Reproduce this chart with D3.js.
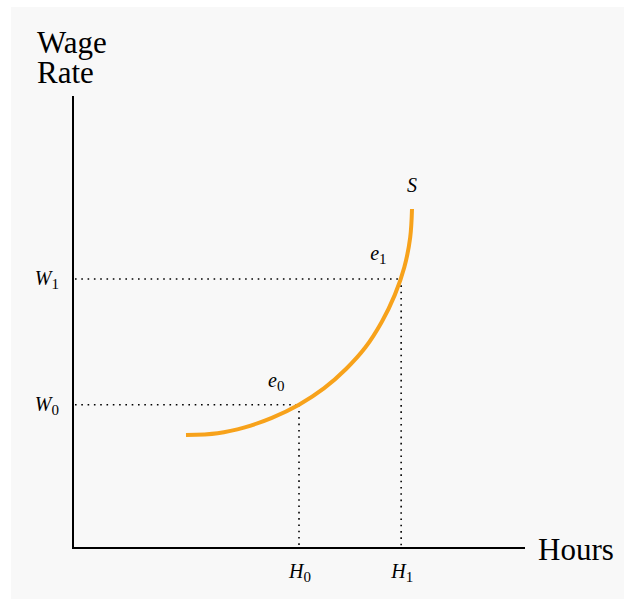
<!DOCTYPE html>
<html>
<head>
<meta charset="utf-8">
<script src="https://cdn.jsdelivr.net/npm/d3@7"></script>
<style>
  html, body { margin: 0; padding: 0; background: #ffffff; }
  svg { display: block; }
</style>
</head>
<body>
<svg id="chart" width="626" height="599"></svg>
<script>
// Labour supply curve S (hours on x, wage rate on y), in chart units
const supplyHours = [2.5, 3.2, 3.8, 4.4, 5.0, 5.55, 6.04, 6.47, 6.83, 7.12, 7.33, 7.46, 7.5];
const supplyWage  = [2.5, 2.54, 2.67, 2.88, 3.17, 3.53, 3.96, 4.44, 5.0, 5.6, 6.21, 6.87, 7.5];

// Equilibrium points e0 and e1
const eqNames = ["0", "1"];
const eqHours = [5.0, 7.26];
const eqWage  = [3.17, 5.95];

const xAxisLabel = "Hours";
const yAxisLabel = ["Wage", "Rate"];
const curveLabel = "S";

const FONT = "'Liberation Serif', serif";

const svg = d3.select("#chart");

// panel background
svg.append("rect").attr("x", 11).attr("y", 7).attr("width", 613).attr("height", 592).attr("fill", "#f8f8f8");

const x = d3.scaleLinear().domain([0, 10]).range([73, 525]);
const y = d3.scaleLinear().domain([0, 10]).range([548, 96]);

// axes
svg.append("line").attr("x1", x(0)).attr("y1", y(0)).attr("x2", x(10)).attr("y2", y(0))
  .attr("stroke", "#000").attr("stroke-width", 2);
svg.append("line").attr("x1", x(0)).attr("y1", y(0) + 1).attr("x2", x(0)).attr("y2", y(10))
  .attr("stroke", "#000").attr("stroke-width", 2);

// axis titles
svg.append("text").attr("x", x(10) + 13).attr("y", y(0) + 12).style("font-family", FONT)
  .style("font-size", "31px").text(xAxisLabel);
svg.selectAll(".ytitle").data(yAxisLabel).enter().append("text")
  .attr("x", 37).attr("y", (d, i) => 53 + i * 30).style("font-family", FONT)
  .style("font-size", "31px").text(d => d);

// dotted guide lines to each equilibrium
eqNames.forEach((n, i) => {
  svg.append("line").attr("x1", x(0) + 2).attr("y1", y(eqWage[i])).attr("x2", x(eqHours[i])).attr("y2", y(eqWage[i]))
    .attr("stroke", "#000").attr("stroke-width", 1.6).attr("stroke-dasharray", "1.6,4.7");
  svg.append("line").attr("x1", x(eqHours[i])).attr("y1", y(eqWage[i])).attr("x2", x(eqHours[i])).attr("y2", y(0) - 2)
    .attr("stroke", "#000").attr("stroke-width", 1.6).attr("stroke-dasharray", "1.6,4.7");
});

// supply curve
const line = d3.line().x(d => x(d[0])).y(d => y(d[1])).curve(d3.curveCatmullRom);
svg.append("path").datum(supplyHours.map((h, i) => [h, supplyWage[i]]))
  .attr("d", line).attr("fill", "none").attr("stroke", "#f7a21b").attr("stroke-width", 4);

// label helper: italic letter with upright subscript
function subLabel(px, py, letter, sub, anchor) {
  const t = svg.append("text").attr("x", px).attr("y", py).attr("text-anchor", anchor || "start")
    .style("font-family", FONT);
  t.append("tspan").style("font-style", "italic").style("font-size", "20px").text(letter);
  if (sub !== null) t.append("tspan").style("font-size", "15px").attr("dy", 4).text(sub);
  return t;
}

eqNames.forEach((n, i) => {
  // wage ticks on the y axis
  subLabel(x(0) - 14, y(eqWage[i]) + 6, "W", n, "end");
  // hour ticks under the x axis
  subLabel(x(eqHours[i]) + 1, y(0) + 30, "H", n, "middle");
});

// equilibrium point labels
subLabel(x(eqHours[0]) - 31, y(eqWage[0]) - 18, "e", "0", "start");
subLabel(x(eqHours[1]) - 31, y(eqWage[1]) - 19, "e", "1", "start");

// curve label
svg.append("text").attr("x", x(supplyHours[supplyHours.length - 1])).attr("y", y(supplyWage[supplyWage.length - 1]) - 17)
  .attr("text-anchor", "middle").style("font-family", FONT).style("font-style", "italic")
  .style("font-size", "20px").text(curveLabel);
</script>
</body>
</html>
